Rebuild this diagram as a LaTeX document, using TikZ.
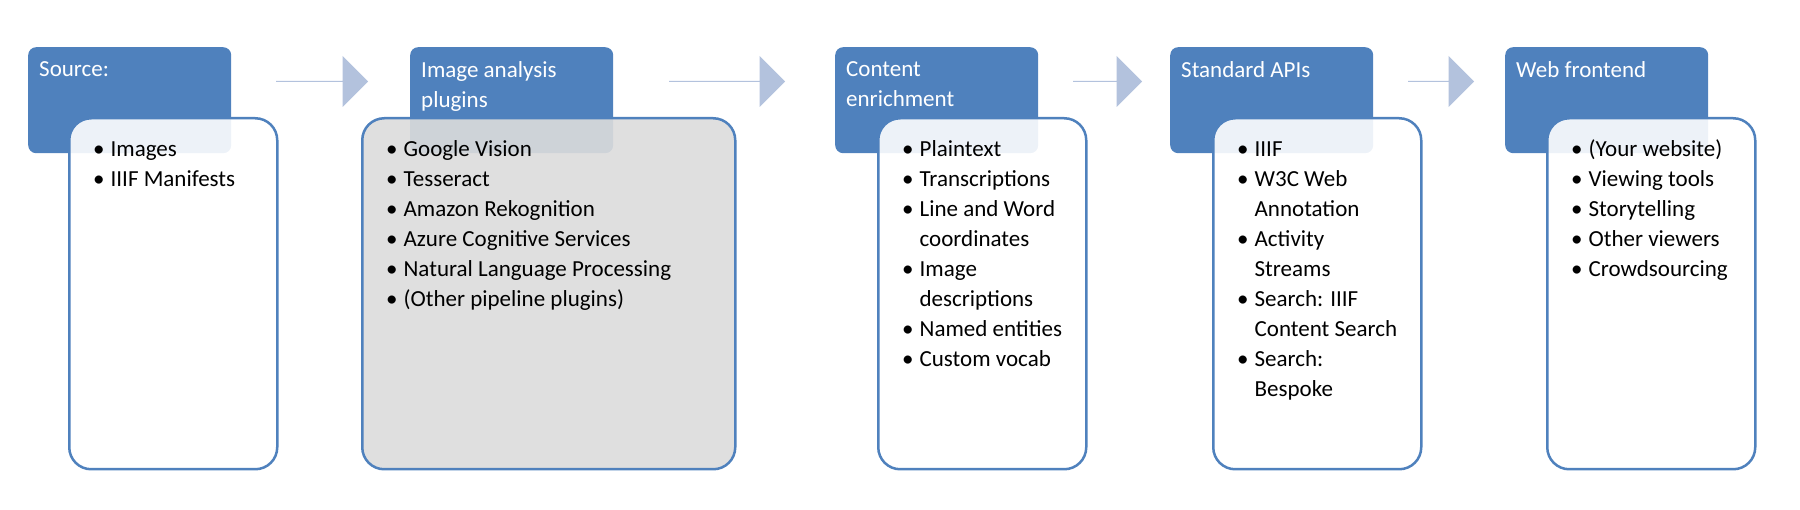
\documentclass[tikz,border=0pt]{standalone}
\usepackage{fontspec}
\setmainfont{Carlito}
\usetikzlibrary{positioning,shapes.arrows}
\definecolor{hdblue}{HTML}{4F81BD}
\definecolor{arblue}{HTML}{B3C2DD}
\definecolor{boxgrey}{HTML}{DCDCDC}
\newcommand{\blist}[1]{\begin{tabular}{@{}l@{\hspace{6pt}}l@{}}#1\end{tabular}}
\begin{document}
\begin{tikzpicture}[x=1pt,y=-1pt,
        font=\fontsize{23}{30}\selectfont,
        header/.style={rectangle, rounded corners=8pt, fill=hdblue, text=white, anchor=north west,
            minimum width=203pt, minimum height=106pt, inner sep=0pt},
        hdtext/.style={anchor=north west, text=white, align=left, inner sep=0pt},
        panel/.style={rectangle, rounded corners=22pt, draw=hdblue, line width=2.5pt, fill=white,
            fill opacity=0.9, anchor=north west, minimum width=208pt, minimum height=351pt},
        items/.style={anchor=north west, inner sep=0pt, align=left},
        flow/.style={single arrow, fill=arblue, anchor=west, inner sep=0pt, minimum width=51pt,
            single arrow head extend=10pt, single arrow head indent=0pt},
    ]
    \useasboundingbox (0,0) rectangle (1800,510);

    % headers
    \node[header] (H1) at (28,47)   {};
    \node[header] (H2) at (410,47)  {};
    \node[header] (H3) at (835,47)  {};
    \node[header] (H4) at (1170,47) {};
    \node[header] (H5) at (1505,47) {};

    \node[hdtext] (T1) at ([xshift=11pt,yshift=-14pt]H1.north west) {Source:};
    \node[hdtext] (T2) at ([xshift=11pt,yshift=-14pt]H2.north west) {Image analysis\\plugins};
    \node[hdtext] (T3) at ([xshift=11pt,yshift=-14pt]H3.north west) {Content\\enrichment};
    \node[hdtext] (T4) at ([xshift=11pt,yshift=-14pt]H4.north west) {Standard APIs};
    \node[hdtext] (T5) at ([xshift=11pt,yshift=-14pt]H5.north west) {Web frontend};

    % panels
    \node[panel] (P1) at (68,117)   {};
    \node[panel, fill=boxgrey, minimum width=373pt] (P2) at (361,117) {};
    \node[panel] (P3) at (877,117)  {};
    \node[panel] (P4) at (1212,117) {};
    \node[panel] (P5) at (1546,117) {};

    \node[items] (L1) at ([xshift=25pt,yshift=-18pt]P1.north west) {\blist{
        \textbullet & Images\\
        \textbullet & IIIF Manifests}};
    \node[items] (L2) at ([xshift=25pt,yshift=-18pt]P2.north west) {\blist{
        \textbullet & Google Vision\\
        \textbullet & Tesseract\\
        \textbullet & Amazon Rekognition\\
        \textbullet & Azure Cognitive Services\\
        \textbullet & Natural Language Processing\\
        \textbullet & (Other pipeline plugins)}};
    \node[items] (L3) at ([xshift=25pt,yshift=-18pt]P3.north west) {\blist{
        \textbullet & Plaintext\\
        \textbullet & Transcriptions\\
        \textbullet & Line and Word\\
                    & coordinates\\
        \textbullet & Image\\
                    & descriptions\\
        \textbullet & Named entities\\
        \textbullet & Custom vocab}};
    \node[items] (L4) at ([xshift=25pt,yshift=-18pt]P4.north west) {\blist{
        \textbullet & IIIF\\
        \textbullet & W3C Web\\
                    & Annotation\\
        \textbullet & Activity\\
                    & Streams\\
        \textbullet & Search: IIIF\\
                    & Content Search\\
        \textbullet & Search:\\
                    & Bespoke}};
    \node[items] (L5) at ([xshift=25pt,yshift=-18pt]P5.north west) {\blist{
        \textbullet & (Your website)\\
        \textbullet & Viewing tools\\
        \textbullet & Storytelling\\
        \textbullet & Other viewers\\
        \textbullet & Crowdsourcing}};

    % block arrows
    \node[flow, minimum height=92pt]  (A1) at (276,81.5)  {};
    \node[flow, minimum height=116pt] (A2) at (669,81.5)  {};
    \node[flow, minimum height=69pt]  (A3) at (1073,81.5) {};
    \node[flow, minimum height=66pt]  (A4) at (1408,81.5) {};

\end{tikzpicture}
\end{document}
